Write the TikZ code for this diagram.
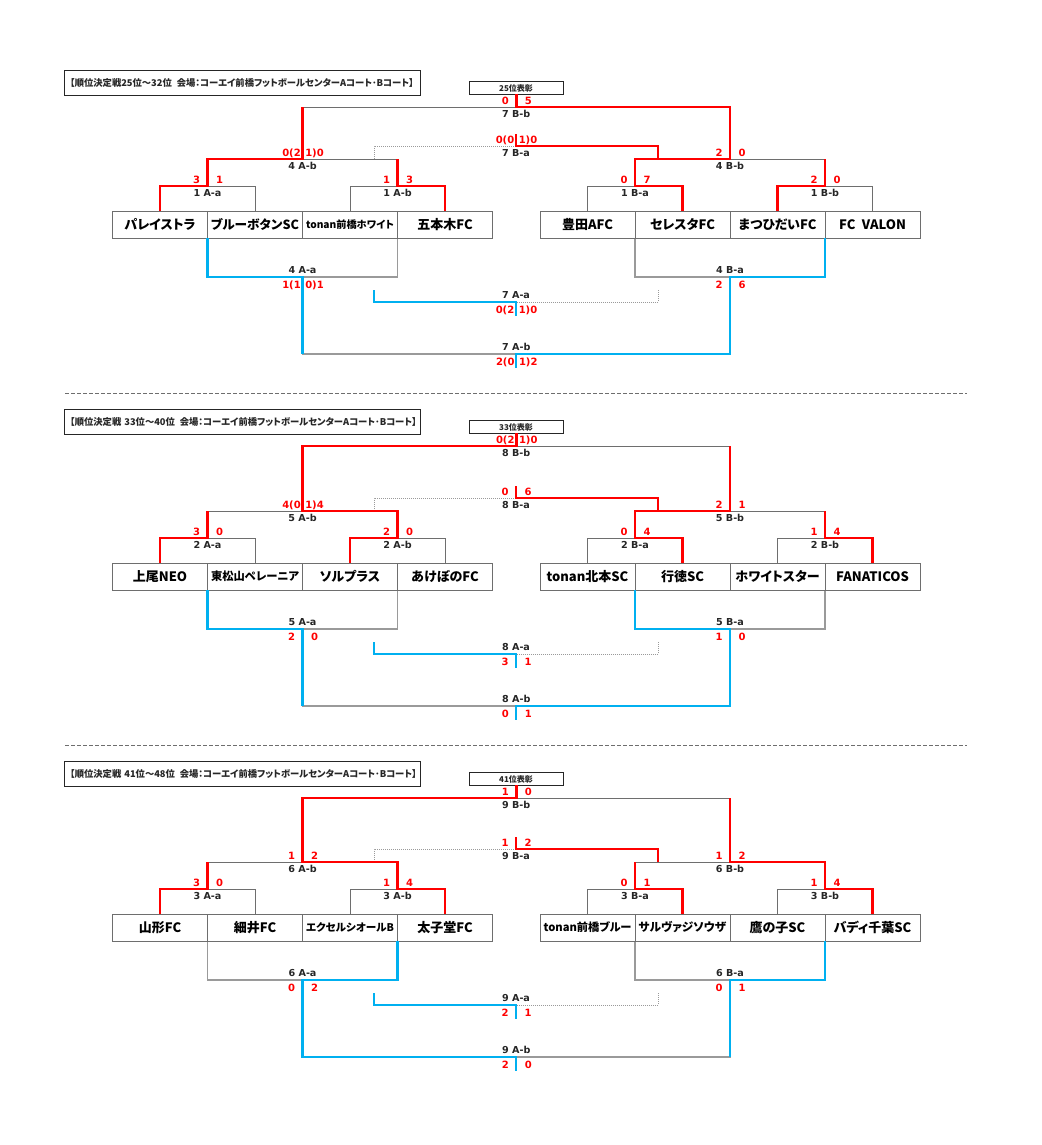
\documentclass[tikz,border=0pt]{standalone}
\usepackage{fontspec}
\usepackage{graphicx}
\setmainfont{DejaVu Sans}
\newfontfamily\jp[RawFeature=+palt]{Noto Sans CJK JP}
\pgfdeclarelayer{bk}
\pgfdeclarelayer{bg}
\pgfsetlayers{bk,bg,main}
\definecolor{lgray}{HTML}{6E6E6E}
\definecolor{bgray}{HTML}{9A9A9A}
\definecolor{wred}{HTML}{FF0000}
\definecolor{wblue}{HTML}{00B0F0}
\definecolor{txt}{HTML}{262626}
\newsavebox\tbox
\newcommand\fitname[1]{\sbox\tbox{#1}\ifdim\wd\tbox>88pt\resizebox{88pt}{!}{\usebox\tbox}\else\usebox\tbox\fi}
\tikzset{
 thin/.style={draw=lgray, line width=0.9pt},
 thinb/.style={draw=bgray, line width=1.2pt},
 dotl/.style={draw=bgray, line width=0.8pt, dash pattern=on 1pt off 1pt},
 rwin/.style={draw=wred, line width=2.5pt},
 bwin/.style={draw=wblue, line width=2.2pt},
 team/.style={draw=lgray, line width=0.9pt, minimum width=95pt, minimum height=27pt, inner sep=0pt, font=\jp\bfseries\fontsize{13}{13}\selectfont, text=black},
 lab/.style={anchor=base, inner sep=0pt, text=txt, font=\bfseries\fontsize{9.6}{9.6}\selectfont},
 scr/.style={anchor=base, inner sep=0pt, text=wred, font=\bfseries\fontsize{10}{10}\selectfont},
 ttlbox/.style={draw=txt, line width=1.3pt, anchor=north west, minimum width=356pt, minimum height=25pt, text width=344pt, align=left, inner xsep=6pt, inner ysep=0pt, font=\jp\bfseries\fontsize{9.3}{9.3}\selectfont, text=txt},
 award/.style={draw=txt, line width=1pt, minimum width=94pt, minimum height=12.5pt, inner sep=0pt, font=\jp\bfseries\fontsize{8}{8}\selectfont, text=txt},
 sep/.style={draw=lgray, line width=0.9pt, dash pattern=on 4pt off 2pt}
}
% #1 winner x, #2 loser x, #3 child y, #4 line y, #5 parent y, #6 win style, #7 lose style
\newcommand\M[7]{%
 \begin{pgfonlayer}{bg}\draw[#7] (#2,#3) -- (#2,#4) -- ({(#1+#2)/2},#4);\end{pgfonlayer}
 \draw[#6] (#1,#3) -- (#1,#4) -- ({(#1+#2)/2},#4) -- ({(#1+#2)/2},#5);}
% labels for upward matches
\newcommand\TL[6]{%
 \node[lab] (#1) at (#2,#3+10.5) {#4};
 \node[scr] (#1l) at (#2-11,#3-2.5) {#5};
 \node[scr] (#1r) at (#2+12,#3-2.5) {#6};}
% labels for downward matches
\newcommand\BL[6]{%
 \node[lab] (#1) at (#2,#3-3.5) {#4};
 \node[scr] (#1l) at (#2-11,#3+11.5) {#5};
 \node[scr] (#1r) at (#2+12,#3+11.5) {#6};}
\newcommand\team[3]{\node[team] (#1) at (#2,224.5) {\fitname{#3}};}
\begin{document}
\begin{tikzpicture}[x=1pt,y=-1pt]
\begin{pgfonlayer}{bk}
\fill[white] (0,0) rectangle (1041,1145);
\end{pgfonlayer}
\useasboundingbox (0,0) rectangle (1041,1145);

% separators
\draw[sep] (65,393) -- (967,393);
\draw[sep] (65,745) -- (967,745);

%================ Section 1 =================
\begin{scope}
\node[ttlbox] (s1title) at (63.5,70) {【順位決定戦25位～32位\hspace{5pt}会場：コーエイ前橋フットボールセンターAコート･Bコート】};
\node[award] (s1aw) at (516,88) {25位表彰};
\team{s1a}{160}{パレイストラ}
\team{s1b}{255}{ブルーボタンSC}
\team{s1c}{350}{tonan前橋ホワイト}
\team{s1d}{445}{五本木FC}
\team{s1e}{587.5}{豊田AFC}
\team{s1f}{682.5}{セレスタFC}
\team{s1g}{777.5}{まつひだいFC}
\team{s1h}{872.5}{FC\hspace{0.5em}VALON}
\M{160}{255}{211}{186}{159}{rwin}{thin}\TL{s1m1}{207.5}{186}{1 A-a}{3}{1}
\M{445}{350}{211}{186}{159}{rwin}{thin}\TL{s1m2}{397.5}{186}{1 A-b}{1}{3}
\M{682.5}{587.5}{211}{186}{159}{rwin}{thin}\TL{s1m3}{635}{186}{1 B-a}{0}{7}
\M{777.5}{872.5}{211}{186}{159}{rwin}{thin}\TL{s1m4}{825}{186}{1 B-b}{2}{0}
\M{207.5}{397.5}{186}{159}{107}{rwin}{thin}\TL{s1m5}{302.5}{159}{4 A-b}{0(2}{1)0}
\M{635}{825}{186}{159}{107}{rwin}{thin}\TL{s1m6}{730}{159}{4 B-b}{2}{0}
\M{730}{302.5}{159}{107}{94}{rwin}{thin}\TL{s1m7}{516.25}{107}{7 B-b}{0}{5}
\M{658}{374}{159}{146}{134}{rwin}{dotl}\TL{s1m8}{516}{146}{7 B-a}{0(0}{1)0}
\M{207.5}{397.5}{238}{277}{354}{bwin}{thinb}\BL{s1m9}{302.5}{277}{4 A-a}{1(1}{0)1}
\M{825}{635}{238}{277}{354}{bwin}{thinb}\BL{s1m10}{730}{277}{4 B-a}{2}{6}
\M{374}{658}{290}{302}{316}{bwin}{dotl}\BL{s1m11}{516}{302}{7 A-a}{0(2}{1)0}
\M{730}{302.5}{277}{354}{368}{bwin}{thinb}\BL{s1m12}{516.25}{354}{7 A-b}{2(0}{1)2}
\end{scope}

%================ Section 2 =================
\begin{scope}[shift={(0,352)}]
\node[ttlbox] (s2title) at (63.5,57) {【順位決定戦 33位～40位\hspace{5pt}会場：コーエイ前橋フットボールセンターAコート･Bコート】};
\node[award] (s2aw) at (516,75) {33位表彰};
\team{s2a}{160}{上尾NEO}
\team{s2b}{255}{東松山ペレーニア}
\team{s2c}{350}{ソルプラス}
\team{s2d}{445}{あけぼのFC}
\team{s2e}{587.5}{tonan北本SC}
\team{s2f}{682.5}{行徳SC}
\team{s2g}{777.5}{ホワイトスター}
\team{s2h}{872.5}{FANATICOS}
\M{160}{255}{211}{186}{159}{rwin}{thin}\TL{s2m1}{207.5}{186}{2 A-a}{3}{0}
\M{350}{445}{211}{186}{159}{rwin}{thin}\TL{s2m2}{397.5}{186}{2 A-b}{2}{0}
\M{682.5}{587.5}{211}{186}{159}{rwin}{thin}\TL{s2m3}{635}{186}{2 B-a}{0}{4}
\M{872.5}{777.5}{211}{186}{159}{rwin}{thin}\TL{s2m4}{825}{186}{2 B-b}{1}{4}
\M{397.5}{207.5}{186}{159}{94}{rwin}{thin}\TL{s2m5}{302.5}{159}{5 A-b}{4(0}{1)4}
\M{635}{825}{186}{159}{94}{rwin}{thin}\TL{s2m6}{730}{159}{5 B-b}{2}{1}
\M{302.5}{730}{159}{94}{81}{rwin}{thin}\TL{s2m7}{516.25}{94}{8 B-b}{0(2}{1)0}
\M{658}{374}{159}{146}{134}{rwin}{dotl}\TL{s2m8}{516}{146}{8 B-a}{0}{6}
\M{207.5}{397.5}{238}{277}{354}{bwin}{thinb}\BL{s2m9}{302.5}{277}{5 A-a}{2}{0}
\M{635}{825}{238}{277}{354}{bwin}{thinb}\BL{s2m10}{730}{277}{5 B-a}{1}{0}
\M{374}{658}{290}{302}{316}{bwin}{dotl}\BL{s2m11}{516}{302}{8 A-a}{3}{1}
\M{730}{302.5}{277}{354}{368}{bwin}{thinb}\BL{s2m12}{516.25}{354}{8 A-b}{0}{1}
\end{scope}

%================ Section 3 =================
\begin{scope}[shift={(0,703)}]
\node[ttlbox] (s3title) at (63.5,58) {【順位決定戦 41位～48位\hspace{5pt}会場：コーエイ前橋フットボールセンターAコート･Bコート】};
\node[award] (s3aw) at (516,76) {41位表彰};
\team{s3a}{160}{山形FC}
\team{s3b}{255}{細井FC}
\team{s3c}{350}{エクセルシオールB}
\team{s3d}{445}{太子堂FC}
\team{s3e}{587.5}{tonan前橋ブルー}
\team{s3f}{682.5}{サルヴァジソウザ}
\team{s3g}{777.5}{鷹の子SC}
\team{s3h}{872.5}{バディ千葉SC}
\M{160}{255}{211}{186}{159}{rwin}{thin}\TL{s3m1}{207.5}{186}{3 A-a}{3}{0}
\M{445}{350}{211}{186}{159}{rwin}{thin}\TL{s3m2}{397.5}{186}{3 A-b}{1}{4}
\M{682.5}{587.5}{211}{186}{159}{rwin}{thin}\TL{s3m3}{635}{186}{3 B-a}{0}{1}
\M{872.5}{777.5}{211}{186}{159}{rwin}{thin}\TL{s3m4}{825}{186}{3 B-b}{1}{4}
\M{397.5}{207.5}{186}{159}{95}{rwin}{thin}\TL{s3m5}{302.5}{159}{6 A-b}{1}{2}
\M{825}{635}{186}{159}{95}{rwin}{thin}\TL{s3m6}{730}{159}{6 B-b}{1}{2}
\M{302.5}{730}{159}{95}{82}{rwin}{thin}\TL{s3m7}{516.25}{95}{9 B-b}{1}{0}
\M{658}{374}{159}{146}{134}{rwin}{dotl}\TL{s3m8}{516}{146}{9 B-a}{1}{2}
\M{397.5}{207.5}{238}{277}{354}{bwin}{thinb}\BL{s3m9}{302.5}{277}{6 A-a}{0}{2}
\M{825}{635}{238}{277}{354}{bwin}{thinb}\BL{s3m10}{730}{277}{6 B-a}{0}{1}
\M{374}{658}{290}{302}{316}{bwin}{dotl}\BL{s3m11}{516}{302}{9 A-a}{2}{1}
\M{302.5}{730}{277}{354}{368}{bwin}{thinb}\BL{s3m12}{516.25}{354}{9 A-b}{2}{0}
\end{scope}
\end{tikzpicture}
\end{document}
